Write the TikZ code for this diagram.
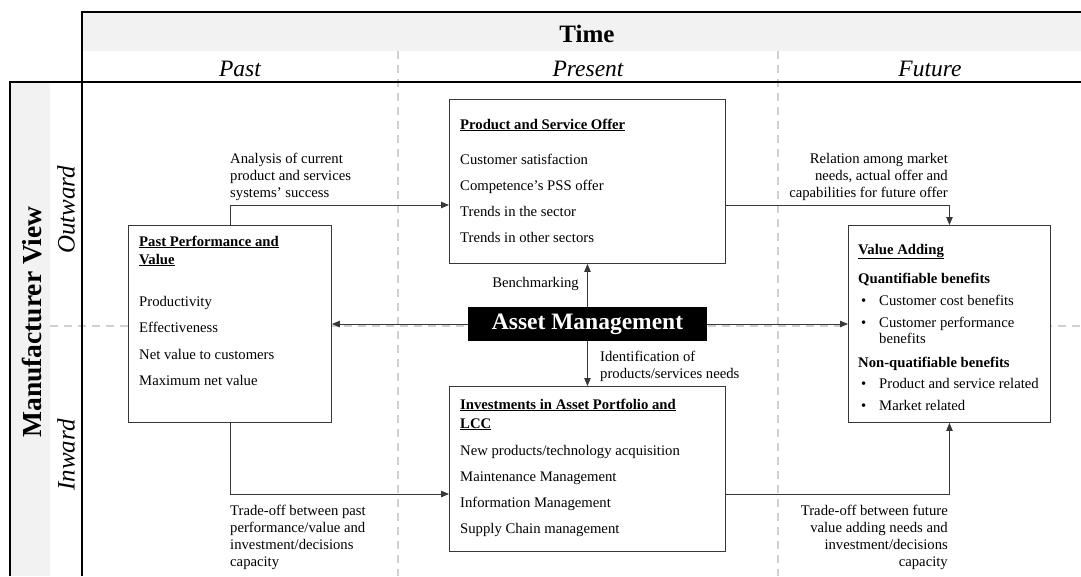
\documentclass[tikz,border=0pt]{standalone}
\usepackage{fontspec}
\setmainfont{Liberation Serif}
\usetikzlibrary{arrows.meta}
\definecolor{band}{HTML}{F2F2F2}
\definecolor{guide}{HTML}{D0D0D0}
\definecolor{edge}{HTML}{383838}

% place a column of text lines: name, anchor, x, first baseline, line step, lines
\newcommand\textcolumn[6]{%
  \foreach \s [count=\i from 0] in {#6}{%
    \node[body, anchor=#2] (#1\i) at (#3, {#4+\i*#5}) {\s};}}
\newcommand\heading[1]{\underline{\textbf{#1}}}

\begin{document}
\begin{tikzpicture}[x=1pt,y=-1pt,
  frame/.style={line width=1.5pt, black},
  guideline/.style={guide, line width=1.4pt, dash pattern=on 8pt off 6pt},
  panel/.style={draw=edge, line width=0.9pt, fill=white, inner sep=0pt, anchor=north west},
  conn/.style={draw=edge, line width=0.9pt, -{Triangle[length=8pt,width=6.5pt]}},
  body/.style={font=\fontsize{14.7}{17}\selectfont, inner sep=0pt},
  colhead/.style={font=\fontsize{23.5}{26}\selectfont\itshape, inner sep=0pt, anchor=base},
  rowhead/.style={font=\fontsize{25}{27}\selectfont\itshape, inner sep=0pt, rotate=90},
  bigbold/.style={font=\fontsize{25}{28}\selectfont\bfseries, inner sep=0pt}
]
\useasboundingbox (0,0) rectangle (1081,576);

% header bands
\fill[band] (82,12) rectangle (1081,51);
\fill[band] (10,82) rectangle (50,576);

% dashed guides between periods and between outward / inward
\draw[guideline] (398,51) -- (398,576);
\draw[guideline] (778,51) -- (778,576);
\draw[guideline] (50,326) -- (1081,326);

% table frame
\draw[frame] (82,576) -- (82,12) -- (1081,12);
\draw[frame] (10,576) -- (10,82) -- (1081,82);

% headers
\node[bigbold, anchor=base] (time) at (587,42) {Time};
\node[colhead] (past) at (240,76) {Past};
\node[colhead] (present) at (588,76) {Present};
\node[colhead] (future) at (930,76) {Future};
\node[bigbold, rotate=90, font=\fontsize{27.5}{30}\selectfont\bfseries] (mview) at (32,322) {Manufacturer View};
\node[rowhead] (outward) at (66,210) {Outward};
\node[rowhead] (inward) at (66,455) {Inward};

% panels
\node[panel, minimum width=276pt, minimum height=164pt] (pso) at (449,99) {};
\node[panel, minimum width=203pt, minimum height=197pt] (ppv) at (128,225) {};
\node[panel, minimum width=202pt, minimum height=197pt] (va) at (848,225) {};
\node[panel, minimum width=276pt, minimum height=165pt] (inv) at (449,386) {};
\node[fill=black, text=white, inner sep=0pt, minimum width=239pt, minimum height=34pt,
      font=\fontsize{23.5}{26}\selectfont\bfseries] (am) at (587.5,324) {Asset Management};

% rows of the connectors between panels
\coordinate (upper) at (0,205);
\coordinate (lower) at (0,494);

% connectors
\draw[conn] (ppv.north) |- (pso.west |- upper);
\draw[conn] (pso.east |- upper) -| (va.north);
\draw[conn] (ppv.south) |- (inv.west |- lower);
\draw[conn] (inv.east |- lower) -| (va.south);
\draw[conn] (am.north) -- (pso.south);
\draw[conn] (am.south) -- (inv.north);
\draw[conn] (am.west) -- (am.west -| ppv.east);
\draw[conn] (am.east) -- (am.east -| va.west);

% product and service offer
\node[body, anchor=base west] (psotitle) at (460,129) {\heading{Product and Service Offer}};
\textcolumn{psoitem}{base west}{460}{164}{26.3}{Customer satisfaction, Competence’s PSS offer, Trends in the sector, Trends in other sectors}

% past performance and value
\textcolumn{ppvtitle}{base west}{139}{246}{18}{\heading{Past Performance and}, \heading{Value}}
\textcolumn{ppvitem}{base west}{139}{306}{26.6}{Productivity, Effectiveness, Net value to customers, Maximum net value}

% investments
\textcolumn{invtitle}{base west}{460}{409}{19}{\heading{Investments in Asset Portfolio and}, \heading{LCC}}
\textcolumn{invitem}{base west}{460}{455}{26.3}{New products/technology acquisition, Maintenance Management, Information Management, Supply Chain management}

% value adding
\node[body, anchor=base west] (vatitle) at (858,254) {\heading{Value Adding}};
\node[body, anchor=base west] (vaq) at (858,283) {\textbf{Quantifiable benefits}};
\node[body, anchor=base west] (vab1) at (861,305) {•};
\node[body, anchor=base west] (vai1) at (879,305) {Customer cost benefits};
\node[body, anchor=base west] (vab2) at (861,327) {•};
\node[body, anchor=base west] (vai2) at (879,327) {Customer performance};
\node[body, anchor=base west] (vai2b) at (879,343) {benefits};
\node[body, anchor=base west] (van) at (858,367) {\textbf{Non-quatifiable benefits}};
\node[body, anchor=base west] (vab3) at (861,388) {•};
\node[body, anchor=base west] (vai3) at (879,388) {Product and service related};
\node[body, anchor=base west] (vab4) at (861,410) {•};
\node[body, anchor=base west] (vai4) at (879,410) {Market related};

% connector labels
\textcolumn{lblA}{base west}{230}{163}{17.3}{Analysis of current, product and services, systems’ success}
\textcolumn{lblB}{base east}{948}{163}{17.3}{Relation among market, {needs, actual offer and}, capabilities for future offer}
\textcolumn{lblC}{base west}{230}{515}{17.3}{Trade-off between past, performance/value and, investment/decisions, capacity}
\textcolumn{lblD}{base east}{948}{515}{17.3}{Trade-off between future, value adding needs and, investment/decisions, capacity}
\node[body, anchor=base east] (bench) at (579,287) {Benchmarking};
\textcolumn{ident}{base west}{600}{361}{17}{Identification of, products/services needs}

\end{tikzpicture}
\end{document}
